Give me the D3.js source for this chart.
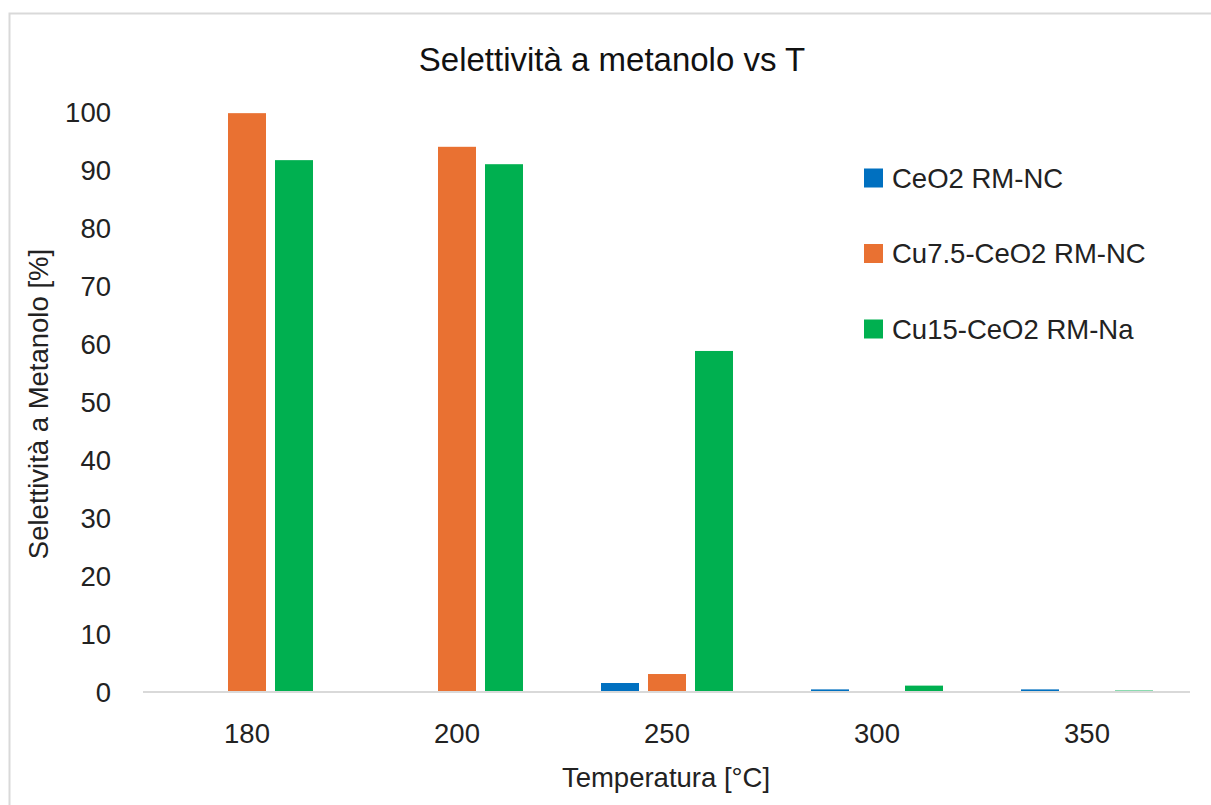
<!DOCTYPE html>
<html>
<head>
<meta charset="utf-8">
<script src="https://cdn.jsdelivr.net/npm/d3@7"></script>
<style>
  html, body { margin: 0; padding: 0; background: #fff; }
  svg { display: block; font-family: "Liberation Sans", Arial, sans-serif; }
</style>
</head>
<body>
<svg id="chart" width="1211" height="805"></svg>
<script>
const categories = ["180", "200", "250", "300", "350"];
const seriesNames = ["CeO2 RM-NC", "Cu7.5-CeO2 RM-NC", "Cu15-CeO2 RM-Na"];
const ceo2 = [0, 0, 1.55, 0.45, 0.45];
const cu75 = [99.8, 94.0, 3.1, 0, 0];
const cu15 = [91.7, 91.0, 58.8, 1.1, 0.25];
const yTicks = [0, 10, 20, 30, 40, 50, 60, 70, 80, 90, 100];
const colors = ["#0070C0", "#E97132", "#00B050"];

const seriesValues = [ceo2, cu75, cu15];
const svg = d3.select("#chart");

// outer chart border
svg.append("rect")
  .attr("x", 9.5).attr("y", 13.5)
  .attr("width", 1230).attr("height", 820)
  .attr("fill", "#fff").attr("stroke", "#d9d9d9").attr("stroke-width", 2);

const plotLeft = 142, plotRight = 1192, plotTop = 112, plotBottom = 692;

const x0 = d3.scaleBand().domain(categories).range([plotLeft, plotRight])
  .paddingInner(0.3714).paddingOuter(0.1857);
const x1 = d3.scaleBand().domain(d3.range(seriesNames.length))
  .range([0, x0.bandwidth()]).paddingInner(0.1915);
const y = d3.scaleLinear().domain([0, 100]).range([plotBottom, plotTop]);

// bars
seriesValues.forEach((vals, si) => {
  svg.append("g").selectAll("rect")
    .data(vals.map((v, i) => ({ cat: categories[i], v })))
    .join("rect")
    .attr("x", d => x0(d.cat) + x1(si))
    .attr("width", x1.bandwidth())
    .attr("y", d => y(d.v))
    .attr("height", d => y(0) - y(d.v))
    .attr("fill", colors[si]);
});

// baseline axis (x)
const xAxis = d3.axisBottom(x0).tickSize(0).tickPadding(0);
const gx = svg.append("g").attr("transform", `translate(0,${plotBottom})`).call(xAxis);
gx.select(".domain").attr("stroke", "#d9d9d9").attr("stroke-width", 2)
  .attr("d", `M${plotLeft + 1},0H${plotRight - 2}`);
gx.selectAll(".tick text")
  .attr("y", 51).attr("dy", 0)
  .attr("font-size", 27.5).attr("fill", "#222")
  .attr("font-family", "Liberation Sans, Arial, sans-serif");

// y axis labels
const yAxis = d3.axisLeft(y).tickValues(yTicks).tickSize(0).tickPadding(0);
const gy = svg.append("g").attr("transform", `translate(111,0)`).call(yAxis);
gy.select(".domain").remove();
gy.selectAll(".tick text")
  .attr("x", 0).attr("dy", "0.36em")
  .attr("font-size", 27.5).attr("fill", "#222")
  .attr("font-family", "Liberation Sans, Arial, sans-serif");

// title
svg.append("text")
  .attr("x", 612).attr("y", 71)
  .attr("text-anchor", "middle")
  .attr("font-size", 33).attr("fill", "#111")
  .text("Selettività a metanolo vs T");

// axis titles
svg.append("text")
  .attr("x", 666).attr("y", 787)
  .attr("text-anchor", "middle")
  .attr("font-size", 27.5).attr("fill", "#222")
  .text("Temperatura [°C]");

svg.append("text")
  .attr("transform", "translate(48,404) rotate(-90)")
  .attr("text-anchor", "middle")
  .attr("font-size", 27.5).attr("fill", "#222")
  .text("Selettività a Metanolo [%]");

// legend
const legend = svg.append("g");
seriesNames.forEach((name, i) => {
  const cy = 178 + i * 75.5;
  legend.append("rect")
    .attr("x", 864).attr("y", cy - 9.5)
    .attr("width", 19).attr("height", 19)
    .attr("fill", colors[i]);
  legend.append("text")
    .attr("x", 892).attr("y", cy)
    .attr("dy", "0.36em")
    .attr("font-size", 27.5).attr("fill", "#222")
    .text(name);
});
</script>
</body>
</html>
